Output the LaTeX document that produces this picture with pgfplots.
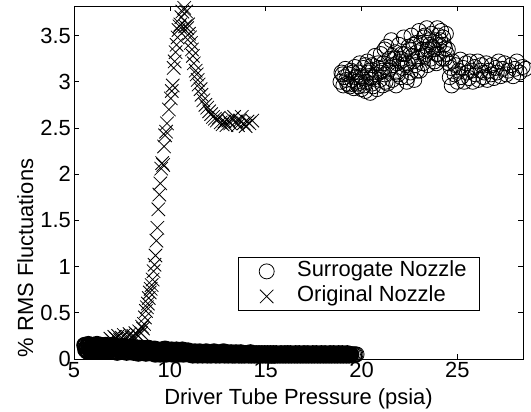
\documentclass[border=0pt]{standalone}
\usepackage{fontspec}
\setmainfont{Liberation Sans}
\usepackage{pgfplots}
\pgfplotsset{compat=1.18}
\usepackage{pgfplotstable}

\pgfplotstableread{
x y
18.90 3.00
18.95 3.10
19.05 2.96
19.10 3.05
19.15 3.14
19.25 2.98
19.30 3.08
19.40 2.95
19.45 3.12
19.50 3.02
19.60 2.93
19.65 3.16
19.70 3.05
19.80 2.98
19.85 3.10
19.90 3.20
20.00 2.92
20.05 3.04
20.10 3.15
20.20 2.90
20.25 3.00
20.30 3.22
20.35 3.10
20.45 2.88
20.50 3.05
20.55 3.18
20.60 2.95
20.70 3.28
20.75 3.08
20.80 2.92
20.90 3.15
20.95 3.02
21.00 3.30
21.10 2.96
21.15 3.20
21.20 3.08
21.30 3.38
21.35 2.98
21.40 3.12
21.45 3.25
21.55 3.45
21.60 3.02
21.65 3.18
21.75 3.32
21.80 2.96
21.85 3.10
21.95 3.40
22.00 3.22
22.05 3.05
22.15 3.15
22.20 3.48
22.25 3.30
22.35 3.00
22.40 3.20
22.45 3.38
22.55 3.10
22.60 3.50
22.65 3.28
22.75 3.02
22.80 3.18
22.85 3.42
22.95 3.25
23.00 3.55
23.05 3.12
23.15 3.35
23.20 3.20
23.25 3.48
23.35 3.30
23.40 3.58
23.45 3.18
23.55 3.40
23.60 3.25
23.65 3.52
23.75 3.35
23.80 3.22
23.85 3.45
23.95 3.58
24.00 3.30
24.05 3.40
24.15 3.55
24.20 3.25
24.25 3.48
24.35 3.36
24.40 3.52
24.45 3.30
24.55 3.20
24.60 3.05
24.65 3.15
24.70 2.96
24.75 3.22
24.85 3.08
24.90 3.18
25.00 3.00
25.05 3.12
25.15 3.24
25.20 3.05
25.30 3.15
25.35 3.00
25.45 3.20
25.50 3.10
25.60 3.04
25.65 3.22
25.75 3.12
25.80 3.00
25.90 3.16
25.95 3.08
26.05 3.22
26.10 3.02
26.20 3.12
26.25 3.18
26.35 3.05
26.40 3.10
26.50 3.20
26.55 3.02
26.65 3.12
26.75 3.08
26.80 3.18
26.90 3.04
27.00 3.15
27.05 3.10
27.15 3.22
27.25 3.06
27.35 3.14
27.45 3.20
27.55 3.08
27.65 3.12
27.80 3.18
27.90 3.06
28.00 3.14
28.10 3.22
28.25 3.10
28.40 3.16
28.55 3.14
19.00 3.08
19.20 3.02
19.35 2.97
19.55 3.10
19.75 3.00
19.95 3.06
20.15 2.96
20.40 3.12
20.65 3.05
20.85 3.20
21.05 3.12
21.25 3.00
21.50 3.15
21.70 3.25
21.90 3.08
22.10 3.30
22.30 3.18
22.50 3.35
22.70 3.22
22.90 3.32
23.10 3.42
23.30 3.28
23.50 3.45
23.70 3.38
23.90 3.30
24.10 3.45
24.30 3.40
24.50 3.35
20.20 3.18
20.55 2.98
21.20 3.35
21.85 3.20
22.40 3.05
22.90 3.12
23.45 3.35
24.00 3.50
19.85 2.95
20.95 3.10
22.05 3.25
23.30 3.50
24.35 3.25
21.60 3.28
22.70 3.40
23.90 3.20
}\surrhigh

\pgfplotstableread{
x y
6.90 0.22
7.00 0.20
7.10 0.24
7.20 0.22
7.30 0.25
7.40 0.21
7.50 0.23
7.60 0.26
7.70 0.22
7.80 0.24
7.90 0.27
8.00 0.23
8.10 0.25
8.20 0.28
8.30 0.26
8.40 0.30
8.50 0.28
8.55 0.35
8.60 0.33
8.65 0.38
8.70 0.45
8.75 0.52
8.80 0.56
8.85 0.60
8.90 0.66
8.95 0.72
9.00 0.76
9.05 0.80
9.10 0.86
9.15 0.95
9.20 1.02
9.25 1.12
9.30 1.28
9.35 1.42
9.40 1.62
9.45 1.78
9.50 1.90
9.55 2.06
9.60 2.12
9.65 2.10
9.70 2.30
9.75 2.42
9.80 2.46
9.85 2.55
9.95 2.70
10.05 2.82
10.10 2.90
10.15 2.96
10.20 3.15
10.25 3.22
10.30 3.32
10.35 3.40
10.40 3.48
10.45 3.56
10.50 3.60
10.55 3.62
10.60 3.70
10.65 3.76
10.75 3.80
10.80 3.60
10.85 3.76
10.90 3.58
10.95 3.62
11.00 3.52
11.05 3.48
11.10 3.42
11.15 3.35
11.20 3.28
11.25 3.20
11.35 3.12
11.40 3.08
11.45 3.02
11.50 2.97
11.60 2.92
11.65 2.86
11.75 2.80
11.85 2.75
11.95 2.72
12.05 2.68
12.15 2.65
12.25 2.62
12.35 2.60
12.45 2.58
12.55 2.61
12.65 2.56
12.75 2.54
12.85 2.57
12.95 2.53
13.05 2.58
13.15 2.55
13.25 2.60
13.35 2.62
13.45 2.57
13.55 2.53
13.65 2.58
13.75 2.62
13.85 2.55
13.95 2.52
14.05 2.57
14.15 2.55
14.30 2.58
}\orig

\begin{document}
\begin{tikzpicture}
\begin{axis}[
  scale only axis,
  width=449bp, height=353bp,
  xmin=5, xmax=28.42, ymin=0, ymax=3.82,
  xtick={5,10,15,20,25},
  ytick={0,0.5,1,1.5,2,2.5,3,3.5},
  yticklabels={0,0.5,1,1.5,2,2.5,3,3.5},
  xticklabels={5,10,15,20,25},
  tick align=inside,
  major tick length=5bp,
  tick style={line width=0.6bp, black},
  axis line style={line width=0.7bp},
  ticklabel style={font=\fontsize{22}{26}\selectfont},
  xticklabel style={inner ysep=3bp},
  yticklabel style={inner xsep=3bp},
  xlabel={Driver Tube Pressure (psia)},
  ylabel={\% RMS Fluctuations},
  label style={font=\fontsize{22}{26}\selectfont},
  xlabel style={at={(axis description cs:0.5,-0.130)}, anchor=base},
  ylabel style={at={(axis description cs:-0.091,0.286)}, anchor=base, rotate=0},
  clip=false,
  legend cell align=left,
  legend image code/.code={\path (0bp,0bp); \draw[mark repeat=2,mark phase=2,#1] plot coordinates {(12bp,0bp)(24bp,0bp)(36bp,0bp)};},
  legend style={at={(0.365,0.289)}, anchor=north west, draw=black, line width=0.8bp,
    font=\fontsize{22}{25}\selectfont, inner xsep=4bp, inner ysep=1.5bp,
    column sep=21bp, row sep=0bp,
    nodes={inner xsep=2bp, inner ysep=3bp, text height=15bp, text depth=4bp}},
]
\addplot[only marks, mark=o, mark size=7.1bp, line width=2.4bp, black, forget plot] coordinates {
(5.55,0.15)(5.60,0.10)(5.65,0.13)(5.70,0.08)(5.75,0.16)(5.80,0.11)(5.85,0.09)(5.90,0.14)(5.95,0.12)(6.00,0.15)(6.05,0.08)(6.10,0.13)(6.15,0.10)(6.20,0.16)(6.25,0.09)(6.30,0.14)(6.35,0.11)(6.40,0.15)(6.45,0.08)(6.50,0.12)(6.55,0.14)(6.60,0.09)(6.65,0.15)(6.70,0.11)(6.75,0.13)(6.80,0.08)(6.85,0.14)(6.90,0.10)(6.95,0.12)(7.00,0.15)
(7.05,0.13)(7.10,0.08)(7.15,0.11)(7.20,0.14)(7.25,0.07)(7.30,0.12)(7.35,0.09)(7.40,0.13)(7.45,0.10)(7.50,0.08)(7.55,0.12)(7.60,0.14)(7.65,0.09)(7.70,0.11)(7.75,0.07)(7.80,0.13)(7.85,0.10)(7.90,0.12)(7.95,0.08)(8.00,0.11)(8.05,0.13)(8.10,0.07)(8.15,0.10)(8.20,0.12)(8.25,0.09)(8.30,0.11)(8.35,0.06)(8.40,0.12)(8.45,0.08)(8.50,0.10)(8.55,0.12)(8.60,0.07)(8.65,0.09)(8.70,0.11)(8.75,0.06)(8.80,0.10)(8.85,0.12)(8.90,0.08)(8.95,0.09)(9.00,0.11)
(9.05,0.10)(9.10,0.06)(9.15,0.09)(9.20,0.11)(9.25,0.05)(9.30,0.08)(9.35,0.10)(9.40,0.07)(9.45,0.09)(9.50,0.05)(9.55,0.10)(9.60,0.08)(9.65,0.06)(9.70,0.09)(9.75,0.11)(9.80,0.05)(9.85,0.08)(9.90,0.10)(9.95,0.06)(10.00,0.09)(10.05,0.07)(10.10,0.10)(10.15,0.05)(10.20,0.08)(10.25,0.09)(10.30,0.06)(10.35,0.10)(10.40,0.07)(10.45,0.05)(10.50,0.09)(10.55,0.08)(10.60,0.06)(10.65,0.10)(10.70,0.05)(10.75,0.08)(10.80,0.09)(10.85,0.06)(10.90,0.07)(10.95,0.09)(11.00,0.05)
(11.05,0.08)(11.10,0.05)(11.15,0.07)(11.20,0.04)(11.25,0.06)(11.30,0.08)(11.35,0.05)(11.40,0.07)(11.45,0.04)(11.50,0.06)(11.55,0.08)(11.60,0.05)(11.65,0.07)(11.70,0.04)(11.75,0.06)(11.80,0.07)(11.85,0.05)(11.90,0.08)(11.95,0.04)(12.00,0.06)(12.05,0.07)(12.10,0.05)(12.15,0.04)(12.20,0.07)(12.25,0.06)(12.30,0.08)(12.35,0.05)(12.40,0.04)(12.45,0.06)(12.50,0.07)(12.55,0.05)(12.60,0.04)(12.65,0.07)(12.70,0.06)(12.75,0.05)(12.80,0.08)(12.85,0.04)(12.90,0.06)(12.95,0.05)(13.00,0.07)(13.05,0.04)(13.10,0.06)(13.15,0.05)(13.20,0.07)(13.25,0.04)(13.30,0.06)(13.35,0.05)(13.40,0.04)(13.45,0.07)(13.50,0.05)(13.55,0.06)(13.60,0.04)(13.65,0.05)(13.70,0.07)(13.75,0.04)(13.80,0.06)(13.85,0.05)(13.90,0.04)(13.95,0.06)(14.00,0.05)
(14.05,0.06)(14.10,0.04)(14.15,0.05)(14.20,0.07)(14.25,0.04)(14.30,0.05)(14.35,0.06)(14.40,0.04)(14.45,0.05)(14.50,0.06)(14.55,0.04)(14.60,0.05)(14.65,0.06)(14.70,0.04)(14.75,0.05)(14.80,0.06)(14.85,0.04)(14.90,0.05)(14.95,0.06)(15.00,0.04)(15.05,0.05)(15.10,0.06)(15.15,0.04)(15.20,0.05)(15.25,0.06)(15.30,0.04)(15.35,0.05)(15.40,0.06)(15.45,0.04)(15.50,0.05)(15.55,0.06)(15.60,0.04)(15.65,0.05)(15.70,0.05)(15.75,0.04)(15.80,0.06)(15.85,0.05)(15.90,0.04)(15.95,0.05)(16.00,0.06)
(16.05,0.04)(16.10,0.05)(16.15,0.06)(16.20,0.04)(16.25,0.05)(16.30,0.06)(16.35,0.04)(16.40,0.05)(16.45,0.05)(16.50,0.04)(16.55,0.06)(16.60,0.05)(16.65,0.04)(16.70,0.05)(16.75,0.06)(16.80,0.04)(16.85,0.05)(16.90,0.05)(16.95,0.04)(17.00,0.06)(17.05,0.05)(17.10,0.04)(17.15,0.05)(17.20,0.06)(17.25,0.04)(17.30,0.05)(17.35,0.05)(17.40,0.04)(17.45,0.06)(17.50,0.05)(17.55,0.04)(17.60,0.05)(17.65,0.06)(17.70,0.04)(17.75,0.05)(17.80,0.05)(17.85,0.04)(17.90,0.06)(17.95,0.05)(18.00,0.04)
(18.05,0.05)(18.10,0.06)(18.15,0.04)(18.20,0.05)(18.25,0.05)(18.30,0.04)(18.35,0.06)(18.40,0.05)(18.45,0.04)(18.50,0.05)(18.55,0.06)(18.60,0.04)(18.65,0.05)(18.70,0.05)(18.75,0.04)(18.80,0.06)(18.85,0.05)(18.90,0.04)(18.95,0.05)(19.00,0.06)(19.05,0.04)(19.10,0.05)(19.15,0.05)(19.20,0.04)(19.25,0.06)(19.30,0.05)(19.35,0.04)(19.40,0.05)(19.45,0.05)
};
\addplot[only marks, mark=o, mark size=7.5bp, line width=0.8bp, black] coordinates {(19.55,0.05)(19.62,0.05)(19.68,0.05)(19.74,0.05)};
\addlegendentry{\makebox[176bp][l]{Surrogate Nozzle}}
\addplot[only marks, mark=x, mark size=9.5bp, line width=0.8bp, black] table {\orig};
\addlegendentry{\makebox[176bp][l]{Original Nozzle}}
\addplot[only marks, mark=o, mark size=7.5bp, line width=0.8bp, black, forget plot] table {\surrhigh};
\end{axis}
\pgfresetboundingbox
\path (current axis.south west) ++(-74bp,-53bp) rectangle ([xshift=8bp,yshift=6bp]current axis.north east);
\end{tikzpicture}
\end{document}
